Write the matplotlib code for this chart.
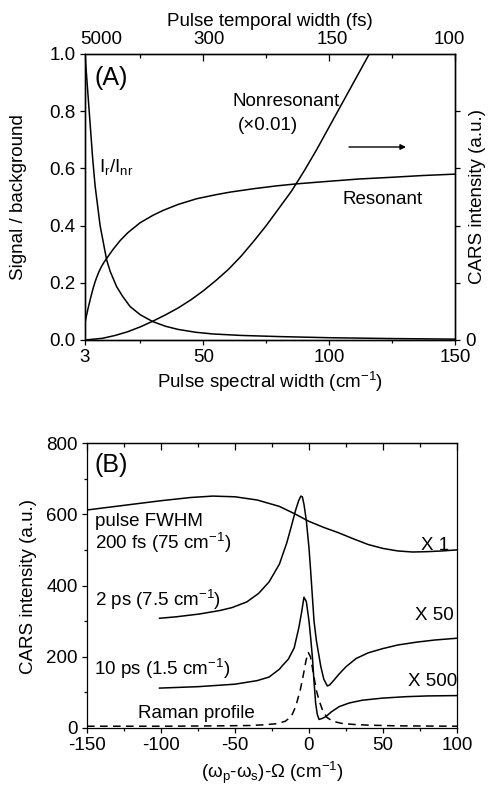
import matplotlib
matplotlib.use("Agg")
import matplotlib.pyplot as plt
from matplotlib.ticker import FormatStrFormatter
from matplotlib.transforms import ScaledTranslation

plt.rcParams['font.family'] = ['Liberation Sans', 'DejaVu Sans']
plt.rcParams['mathtext.fontset'] = 'custom'
plt.rcParams['mathtext.rm'] = 'Liberation Sans'
plt.rcParams['mathtext.it'] = 'Liberation Sans:italic'
plt.rcParams['mathtext.bf'] = 'Liberation Sans:bold'
plt.rcParams['font.size'] = 13.5
plt.rcParams['axes.unicode_minus'] = False

# ---------------- Panel A data ----------------
spec_ticks = [3, 50, 100, 150]
spec_minor = [25, 75, 125]
temporal_labels = ['5000', '300', '150', '100']
sig_yticks = [0.0, 0.2, 0.4, 0.6, 0.8, 1.0]

ratio_x = [3, 4, 5, 6, 7, 9, 11.6, 13, 15.6, 18, 20.9, 25, 30, 35, 40, 47, 54, 65, 80, 100, 125, 150]
ratio_y = [1.0, 0.88, 0.76, 0.64, 0.54, 0.40, 0.28, 0.24, 0.186, 0.152, 0.117, 0.088, 0.064, 0.048,
           0.037, 0.027, 0.021, 0.016, 0.012, 0.008, 0.005, 0.003]

res_x = [3, 3.5, 4, 4.5, 5, 5.6, 6.2, 7, 7.6, 8.5, 9.5, 10.5, 11.6, 14, 16.9, 20, 24.9, 30, 34, 40,
         47.4, 55, 60.6, 70, 79.2, 87.1, 100, 112, 125, 137, 150]
res_y = [0.06, 0.082, 0.102, 0.121, 0.139, 0.16, 0.18, 0.203, 0.218, 0.238, 0.256, 0.271, 0.285,
         0.315, 0.347, 0.375, 0.41, 0.436, 0.453, 0.474, 0.494, 0.508, 0.517, 0.529, 0.539, 0.546,
         0.555, 0.563, 0.569, 0.575, 0.58]

nonres_x = [3, 10, 15, 20, 25, 30, 35, 40, 45, 50, 55, 60, 65, 70, 75, 80, 85, 90, 95, 100, 105,
            110, 115, 120]
nonres_y = [0.0, 0.006, 0.016, 0.029, 0.046, 0.066, 0.088, 0.112, 0.14, 0.172, 0.208, 0.247, 0.293,
            0.345, 0.40, 0.46, 0.52, 0.59, 0.665, 0.745, 0.825, 0.905, 0.985, 1.065]

# ---------------- Panel B data ----------------
shift_ticks = [-150, -100, -50, 0, 50, 100]
shift_minor = [-125, -75, -25, 25, 75]
cars_ticks = [0, 200, 400, 600, 800]
cars_minor = [100, 300, 500, 700]

x1_x = [-150, -125, -100, -80, -65, -50, -35, -20, -10, 0, 10, 20, 30, 40, 50, 60, 70, 80, 90, 100]
x1_y = [612, 625, 638, 647, 651, 649, 640, 622, 602, 580, 563, 548, 531, 515, 504, 497, 494, 495, 497, 500]

x50_x = [-101, -90, -74, -60, -52, -42, -34, -27, -20, -15, -12, -9, -7, -5.5, -4.5, -3.4, -1.8, 0,
         1.1, 3.4, 5, 8, 10, 12.4, 14, 17, 20, 25, 31.8, 40, 50, 60, 72.7, 85, 100]
x50_y = [308, 312, 320, 330, 338, 354, 378, 410, 460, 520, 565, 612, 638, 651, 649, 628, 582, 505,
         442, 300, 245, 172, 137, 118, 121, 135, 150, 172, 195, 211, 223, 233, 241, 247, 252]

x500_x = [-101, -75, -50, -35, -27, -20, -18, -14, -10, -6.8, -5, -3.4, -1.8, 0, 1.2, 2.3, 3.4, 4.5,
          5.6, 6.8, 9, 11.4, 15, 20.4, 27, 36, 50, 66, 80, 100]
x500_y = [112, 116, 123, 133, 143, 165, 175, 193, 225, 283, 325, 367, 355, 300, 250, 199, 130, 69,
          38, 24, 27, 32, 45, 60, 70, 78, 84, 88, 90, 91]

raman_x = [-150, -100, -60, -40, -30, -22, -16, -12, -9, -6, -4, -2, -0.5, 1, 3, 5, 7, 9, 12, 16,
           22, 30, 40, 60, 100]
raman_y = [5, 5, 6, 7, 9, 12, 19, 32, 60, 105, 145, 190, 212, 200, 152, 105, 75, 52, 30, 19,
           13, 10, 8, 6, 5]

LW = 1.1
SP = 0.9
W, H = 488, 785

fig = plt.figure(figsize=(4.88, 7.85), dpi=100)

def ftxt(px, py, s, **kw):
    fig.text(px / W, 1 - py / H, s, **kw)

# ================= Panel A =================
axA = fig.add_axes([85/W, (H-340)/H, 370/W, 286/H])
axA.plot(ratio_x, ratio_y, color='black', lw=LW)
axA.plot(res_x, res_y, color='black', lw=LW)
axA.set_xlim(3, 150)
axA.set_ylim(0, 1.0)
axA.set_xticks(spec_ticks)
axA.set_xticks(spec_minor, minor=True)
axA.set_yticks(sig_yticks)
axA.yaxis.set_major_formatter(FormatStrFormatter('%.1f'))
axA.tick_params(axis='x', which='major', direction='out', length=3.6, width=SP, pad=3, top=False)
axA.tick_params(axis='x', which='minor', direction='out', length=2.2, width=SP, top=False)
axA.tick_params(axis='y', which='major', direction='out', length=3.6, width=SP, pad=3, right=False)

# right axis (nonresonant, a.u.)
axR = axA.twinx()
axR.plot(nonres_x, nonres_y, color='black', lw=LW)
axR.set_ylim(0, 1.0)
axR.set_yticks([0, 0.2, 0.4, 0.6, 0.8])
axR.set_yticklabels(['0', '', '', '', ''])
axR.tick_params(axis='y', direction='out', length=3.6, width=SP, pad=4)

# top axis (temporal width)
axT = axA.twiny()
axT.set_xlim(3, 150)
axT.set_xticks(spec_ticks)
axT.set_xticklabels(temporal_labels)
axT.set_xticks(spec_minor, minor=True)
axT.tick_params(axis='x', which='major', direction='in', length=4.7, width=SP, pad=4.5)
axT.tick_params(axis='x', which='minor', direction='in', length=2.9, width=SP)
for tick, dx in zip(axT.xaxis.get_major_ticks(), [16, 6, 3, -6]):
    tick.label2.set_transform(tick.label2.get_transform() +
                              ScaledTranslation(dx / 100, 0, fig.dpi_scale_trans))

for a in (axA, axR, axT):
    for s in a.spines.values():
        s.set_linewidth(SP)

ftxt(270, 21, 'Pulse temporal width (fs)', ha='center', va='center')
ftxt(270, 382, 'Pulse spectral width (cm$^{\\mathregular{-1}}$)', ha='center', va='center')
ftxt(19, 197, 'Signal / background', rotation=90, ha='center', va='center')
ftxt(478, 197, 'CARS intensity (a.u.)', rotation=90, ha='center', va='center')

def fa(px, py):
    return ((px - 85) / 370, (340 - py) / 286)

axA.text(*fa(95, 78), '(A)', transform=axA.transAxes, fontsize=18, va='center', ha='left')
axA.text(*fa(233, 101), 'Nonresonant', transform=axA.transAxes, va='center', ha='left')
axA.text(*fa(238, 125), '(\u00d70.01)', transform=axA.transAxes, va='center', ha='left')
axA.text(*fa(343, 199), 'Resonant', transform=axA.transAxes, va='center', ha='left')
axA.text(*fa(99, 167), 'I$_{\\mathregular{r}}$/I$_{\\mathregular{nr}}$', transform=axA.transAxes,
         va='center', ha='left')
axA.annotate('', xy=fa(406, 147), xytext=fa(349, 147), xycoords='axes fraction',
             textcoords='axes fraction',
             arrowprops=dict(arrowstyle='-|>', color='black', lw=1.0, mutation_scale=8,
                             shrinkA=0, shrinkB=0))

# ================= Panel B =================
axB = fig.add_axes([87/W, (H-728)/H, 370/W, 285/H])
axB.plot(x1_x, x1_y, color='black', lw=LW)
axB.plot(x50_x, x50_y, color='black', lw=LW)
axB.plot(x500_x, x500_y, color='black', lw=LW)
axB.plot(raman_x, raman_y, color='black', lw=LW, linestyle=(0, (5, 3.5)))
axB.set_xlim(-150, 100)
axB.set_ylim(0, 800)
axB.set_xticks(shift_ticks)
axB.set_xticks(shift_minor, minor=True)
axB.set_yticks(cars_ticks)
axB.set_yticks(cars_minor, minor=True)
axB.tick_params(axis='x', which='major', direction='out', length=3.6, width=SP, pad=3)
axB.tick_params(axis='x', which='minor', direction='out', length=2.2, width=SP)
axB.tick_params(axis='y', which='major', direction='out', length=3.6, width=SP, pad=3)
axB.tick_params(axis='y', which='minor', direction='out', length=2.2, width=SP)
for s in axB.spines.values():
    s.set_linewidth(SP)
axBt = axB.secondary_xaxis('top')
axBt.set_xticks(shift_ticks)
axBt.set_xticks(shift_minor, minor=True)
axBt.tick_params(axis='x', which='major', direction='in', length=4.7, width=SP, labeltop=False)
axBt.tick_params(axis='x', which='minor', direction='in', length=2.9, width=SP)
axBt.set_xticklabels([])
axBt.spines['top'].set_linewidth(SP)

ftxt(272, 773, '($\\mathregular{\\omega_p}$-$\\mathregular{\\omega_s}$)-\u03a9 (cm$^{\\mathregular{-1}}$)',
     ha='center', va='center')
ftxt(29, 586, 'CARS intensity (a.u.)', rotation=90, ha='center', va='center')

def fb(px, py):
    return ((px - 87) / 370, (728 - py) / 285)

tb = dict(transform=axB.transAxes, va='center', ha='left')
axB.text(*fb(95, 465), '(B)', transform=axB.transAxes, va='center', ha='left', fontsize=18)
axB.text(*fb(95, 521), 'pulse FWHM', **tb)
axB.text(*fb(95, 543), '200 fs (75 cm$^{\\mathregular{-1}}$)', **tb)
axB.text(*fb(95, 600), '2 ps (7.5 cm$^{\\mathregular{-1}}$)', **tb)
axB.text(*fb(94, 669), '10 ps (1.5 cm$^{\\mathregular{-1}}$)', **tb)
axB.text(*fb(138, 713), 'Raman profile', **tb)
axB.text(*fb(421, 545), 'X 1', **tb)
axB.text(*fb(415, 615), 'X 50', **tb)
axB.text(*fb(408, 681), 'X 500', **tb)

fig.savefig('out.png', dpi=100)
